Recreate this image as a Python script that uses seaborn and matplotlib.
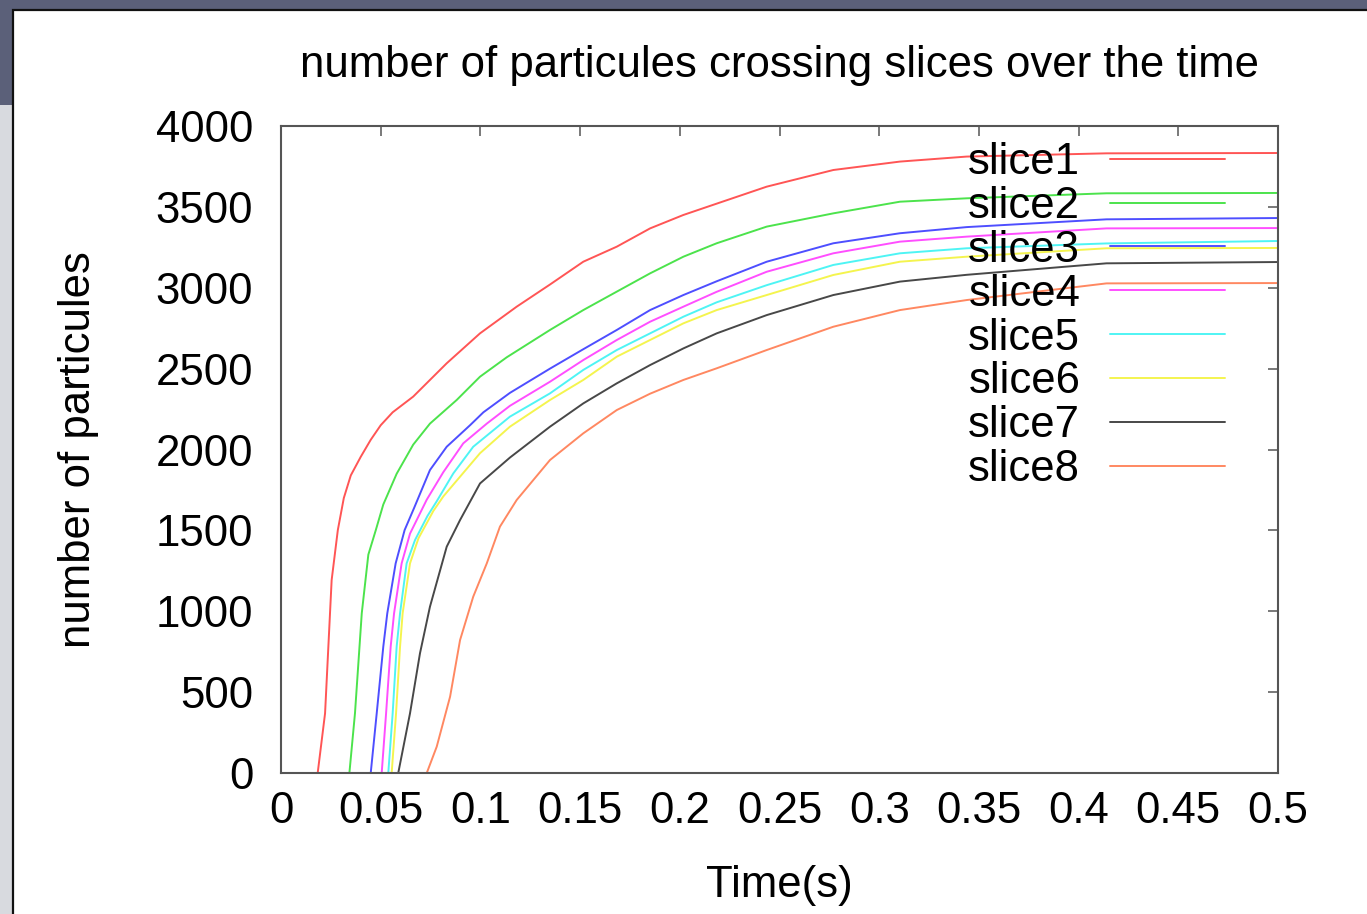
import matplotlib
matplotlib.use("Agg")
import matplotlib.pyplot as plt
from matplotlib.patches import Rectangle
import numpy as np
import pandas as pd
import seaborn as sns

# ---- data: particles crossing each slice over time ----
slice_names = ["slice1", "slice2", "slice3", "slice4",
               "slice5", "slice6", "slice7", "slice8"]

t_slice1 = [0, 0.0184, 0.0221, 0.0254, 0.0285, 0.0315, 0.0350, 0.0400, 0.0450, 0.0500, 0.0560,
            0.0663, 0.0831, 0.0998, 0.1182, 0.1349, 0.1516, 0.1684, 0.1851, 0.2018, 0.2185,
            0.2436, 0.2770, 0.3104, 0.3439, 0.414, 0.5]
n_slice1 = [0, 0, 369, 1193, 1502, 1700, 1840, 1955, 2060, 2150, 2230,
            2327, 2533, 2718, 2883, 3020, 3161, 3254, 3367, 3450, 3520,
            3625, 3728, 3780, 3811, 3831, 3833]

t_slice2 = [0, 0.0343, 0.0371, 0.0405, 0.0438, 0.0475, 0.0513, 0.058, 0.0663, 0.0747, 0.0881,
            0.0998, 0.1132, 0.1349, 0.1516, 0.1684, 0.1851, 0.2018, 0.2185, 0.2436, 0.2770,
            0.3104, 0.3439, 0.414, 0.5]
n_slice2 = [0, 0, 369, 987, 1350, 1500, 1660, 1850, 2030, 2160, 2306,
            2450, 2570, 2739, 2862, 2976, 3089, 3192, 3275, 3378, 3460,
            3532, 3553, 3584, 3586]

t_slice3 = [0, 0.045, 0.048, 0.0513, 0.0533, 0.0575, 0.062, 0.0668, 0.0747, 0.0831, 0.0948,
            0.1015, 0.1148, 0.1349, 0.1516, 0.1684, 0.1851, 0.2018, 0.2185, 0.2436, 0.2770,
            0.3104, 0.3439, 0.414, 0.5]
n_slice3 = [0, 0, 369, 781, 987, 1296, 1502, 1640, 1873, 2017, 2150,
            2230, 2350, 2500, 2620, 2739, 2862, 2955, 3040, 3161, 3275,
            3337, 3375, 3423, 3431]

t_slice4 = [0, 0.0505, 0.0527, 0.0550, 0.0567, 0.0605, 0.0647, 0.0731, 0.0814, 0.0914, 0.1032,
            0.1148, 0.1349, 0.1516, 0.1684, 0.1851, 0.2018, 0.2185, 0.2436, 0.2770, 0.3104,
            0.3439, 0.414, 0.5]
n_slice4 = [0, 0, 369, 781, 987, 1296, 1480, 1690, 1860, 2038, 2160,
            2270, 2419, 2553, 2677, 2790, 2883, 2975, 3099, 3213, 3285,
            3316, 3367, 3369]

t_slice5 = [0, 0.0538, 0.0560, 0.0580, 0.0597, 0.0630, 0.0672, 0.0735, 0.0781, 0.0864, 0.0964,
            0.1148, 0.1349, 0.1516, 0.1684, 0.1851, 0.2018, 0.2185, 0.2436, 0.2770, 0.3104,
            0.3439, 0.414, 0.5]
n_slice5 = [0, 0, 369, 781, 987, 1296, 1440, 1590, 1680, 1852, 2017,
            2203, 2347, 2492, 2615, 2718, 2821, 2910, 3016, 3141, 3213,
            3244, 3274, 3289]

t_slice6 = [0, 0.0555, 0.0577, 0.0597, 0.0610, 0.0647, 0.0689, 0.0764, 0.0814, 0.0898, 0.0998,
            0.1148, 0.1349, 0.1516, 0.1684, 0.1851, 0.2018, 0.2185, 0.2436, 0.2770, 0.3104,
            0.3439, 0.414, 0.5]
n_slice6 = [0, 0, 369, 781, 987, 1296, 1450, 1620, 1710, 1832, 1977,
            2141, 2306, 2430, 2574, 2677, 2780, 2862, 2955, 3079, 3161,
            3192, 3244, 3246]

t_slice7 = [0, 0.0588, 0.0647, 0.0697, 0.0747, 0.0831, 0.0898, 0.0998, 0.1148, 0.1349, 0.1516,
            0.1684, 0.1851, 0.2018, 0.2185, 0.2436, 0.2770, 0.3104, 0.3439, 0.414, 0.5]
n_slice7 = [0, 0, 369, 740, 1028, 1399, 1564, 1790, 1950, 2141, 2285,
            2409, 2522, 2625, 2718, 2831, 2955, 3038, 3080, 3151, 3159]

t_slice8 = [0, 0.0731, 0.0781, 0.0848, 0.0898, 0.0964, 0.1032, 0.1098, 0.1182, 0.1349, 0.1516,
            0.1684, 0.1851, 0.2018, 0.2185, 0.2436, 0.2770, 0.3104, 0.3439, 0.414, 0.5]
n_slice8 = [0, 0, 163, 472, 822, 1090, 1296, 1523, 1688, 1935, 2100,
            2244, 2345, 2430, 2502, 2615, 2759, 2862, 2924, 3027, 3029]

x_ticks = [0, 0.05, 0.1, 0.15, 0.2, 0.25, 0.3, 0.35, 0.4, 0.45, 0.5]
x_tick_labels = ["0", "0.05", "0.1", "0.15", "0.2", "0.25", "0.3", "0.35", "0.4", "0.45", "0.5"]
y_ticks = [0, 500, 1000, 1500, 2000, 2500, 3000, 3500, 4000]
y_tick_labels = ["0", "500", "1000", "1500", "2000", "2500", "3000", "3500", "4000"]

line_colors = ["#ff2a2a", "#1fdc1f", "#2222ff", "#ff22ff",
               "#22f2f2", "#f2f222", "#1a1a1a", "#ff6a3a"]

times = [t_slice1, t_slice2, t_slice3, t_slice4, t_slice5, t_slice6, t_slice7, t_slice8]
counts = [n_slice1, n_slice2, n_slice3, n_slice4, n_slice5, n_slice6, n_slice7, n_slice8]

frames = []
for name, t, n in zip(slice_names, times, counts):
    frames.append(pd.DataFrame({"time": t, "count": n, "slice": name}))
df = pd.concat(frames, ignore_index=True)

# ---- style ----
sns.set_theme(style="white")
plt.rcParams["font.family"] = ["Liberation Sans", "DejaVu Sans"]
plt.rcParams["text.color"] = "black"
plt.rcParams["axes.labelcolor"] = "black"

FS = 31.5

fig = plt.figure(figsize=(13.67, 9.14), dpi=100, facecolor="#5b6079")
W, H = 1367, 914

# window backdrop: light strip down the left edge, white plot window with dark rim
fig.patches.append(Rectangle((0, 0), 13 / W, (H - 105) / H, transform=fig.transFigure,
                             facecolor="#d8dadf", edgecolor="none", zorder=-3))
fig.patches.append(Rectangle((13 / W, -0.01), 1.0, (H - 10) / H + 0.01, transform=fig.transFigure,
                             facecolor="white", edgecolor="#111111", linewidth=1.6, zorder=-2))

ax = fig.add_axes([281 / W, 1 - 773 / H, (1278 - 281) / W, (773 - 126) / H])
ax.set_facecolor("white")

palette = dict(zip(slice_names, line_colors))
sns.lineplot(data=df, x="time", y="count", hue="slice", palette=palette,
             estimator=None, linewidth=1.4, alpha=0.8, legend=False, ax=ax)

ax.set_xlim(0, 0.5)
ax.set_ylim(0, 4000)
ax.set_xticks(x_ticks)
ax.set_xticklabels(x_tick_labels, color="black", fontsize=FS)
ax.set_yticks(y_ticks)
ax.set_yticklabels(y_tick_labels, color="black", fontsize=FS)
ax.tick_params(axis="both", direction="in", length=7, width=1.1,
               top=True, right=True, colors="#555555", labelcolor="black")
ax.tick_params(axis="y", pad=20)
ax.tick_params(axis="x", pad=13)

for sp in ax.spines.values():
    sp.set_visible(True)
    sp.set_color("#555555")
    sp.set_linewidth(1.5)

ax.set_title("number of particules crossing slices over the time",
             fontsize=FS, y=(773 - 77) / 647, pad=0, color="black")
ax.set_xlabel("Time(s)", fontsize=FS)
ax.set_ylabel("number of particules", fontsize=FS)
ax.xaxis.label.set_verticalalignment("center")
ax.yaxis.label.set_verticalalignment("center")
ax.xaxis.set_label_coords(0.5, (773 - 885) / 647)
ax.yaxis.set_label_coords((79 - 281) / 997, 0.5)

handles = ax.get_lines()[:len(slice_names)]
leg = ax.legend(handles, slice_names, loc="upper right",
                bbox_to_anchor=(1225 / W, 1 - 142 / H), bbox_transform=fig.transFigure,
                frameon=False, markerfirst=False, fontsize=FS,
                handlelength=2.63, handletextpad=0.68, labelspacing=0.066,
                borderpad=0, borderaxespad=0)

fig.savefig("out.png", dpi=100, facecolor=fig.get_facecolor())
